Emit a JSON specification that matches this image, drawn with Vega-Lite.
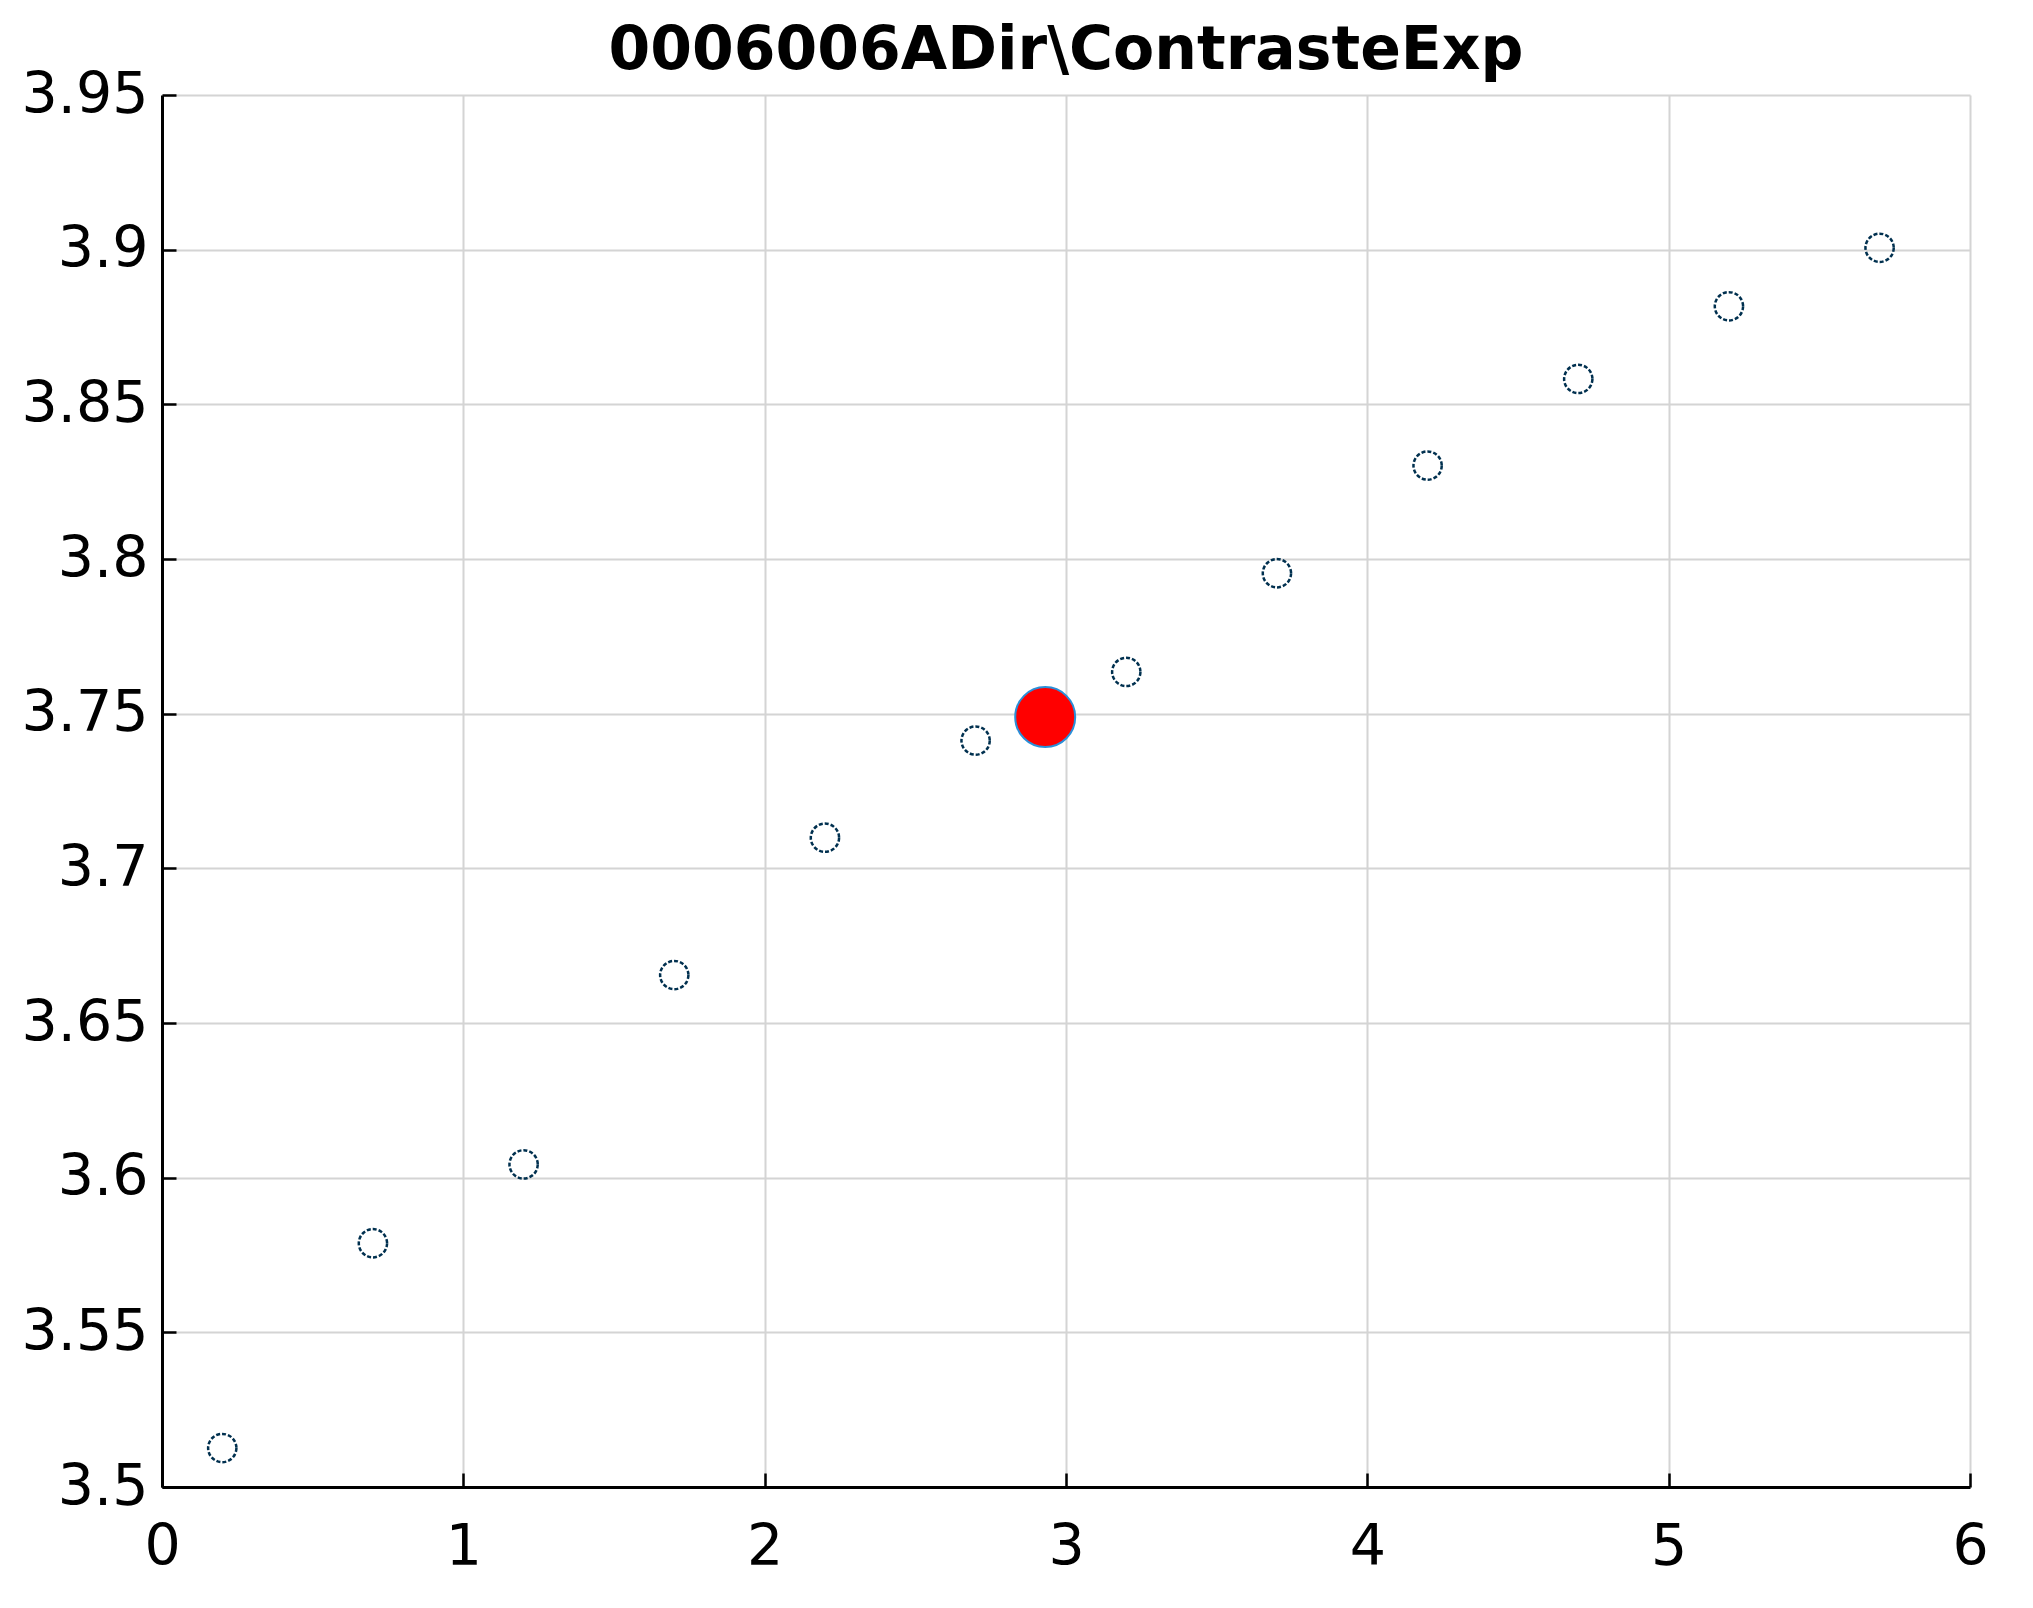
{
  "$schema": "https://vega.github.io/schema/vega-lite/v6.json",
  "width": 1808,
  "height": 1392,
  "autosize": "none",
  "padding": {"left": 162, "top": 95, "right": 63, "bottom": 121},
  "background": "white",
  "title": {"text": "0006006ADir\\ContrasteExp", "font": "DejaVu Sans", "fontSize": 60, "fontWeight": "bold", "color": "black", "anchor": "middle", "offset": -16},
  "config": {"view": {"stroke": null}},
  "layer": [
    {
      "data": {"values": [
        {"x": 0.2, "y": 3.5126},
        {"x": 0.7, "y": 3.5788},
        {"x": 1.2, "y": 3.6043},
        {"x": 1.7, "y": 3.6655},
        {"x": 2.2, "y": 3.7099},
        {"x": 2.7, "y": 3.7413},
        {"x": 3.2, "y": 3.7635},
        {"x": 3.7, "y": 3.7954},
        {"x": 4.2, "y": 3.8302},
        {"x": 4.7, "y": 3.8582},
        {"x": 5.2, "y": 3.8817},
        {"x": 5.7, "y": 3.9006}
      ]},
      "mark": {"type": "point", "shape": "circle", "filled": false, "size": 800, "stroke": "#00304f", "strokeWidth": 2.5, "strokeDash": [4, 2], "opacity": 1},
      "encoding": {
        "x": {"field": "x", "type": "quantitative", "scale": {"domain": [0, 6], "nice": false, "zero": false},
          "axis": {"title": null, "values": [0, 1, 2, 3, 4, 5, 6], "format": "d", "labelFont": "DejaVu Sans", "labelFontSize": 57, "labelColor": "black", "labelPadding": 46, "tickSize": -14, "tickColor": "black", "tickWidth": 2.5, "domainColor": "black", "domainWidth": 3, "gridColor": "#d4d4d4", "gridWidth": 2, "labelFlush": false}},
        "y": {"field": "y", "type": "quantitative", "scale": {"domain": [3.5, 3.95], "nice": false, "zero": false},
          "axis": {"title": null, "values": [3.5, 3.55, 3.6, 3.65, 3.7, 3.75, 3.8, 3.85, 3.9, 3.95], "format": "~g", "labelFont": "DejaVu Sans", "labelFontSize": 57, "labelColor": "black", "labelPadding": 28, "tickSize": -14, "tickColor": "black", "tickWidth": 2.5, "domainColor": "black", "domainWidth": 3, "gridColor": "#d4d4d4", "gridWidth": 2, "labelFlush": false}}
      }
    },
    {
      "data": {"values": [{"x": 2.931, "y": 3.7489}]},
      "mark": {"type": "point", "shape": "circle", "filled": true, "size": 3600, "fill": "#ff0000", "stroke": "#2a8fd8", "strokeWidth": 2, "opacity": 1, "fillOpacity": 1},
      "encoding": {
        "x": {"field": "x", "type": "quantitative"},
        "y": {"field": "y", "type": "quantitative"}
      }
    }
  ]
}
